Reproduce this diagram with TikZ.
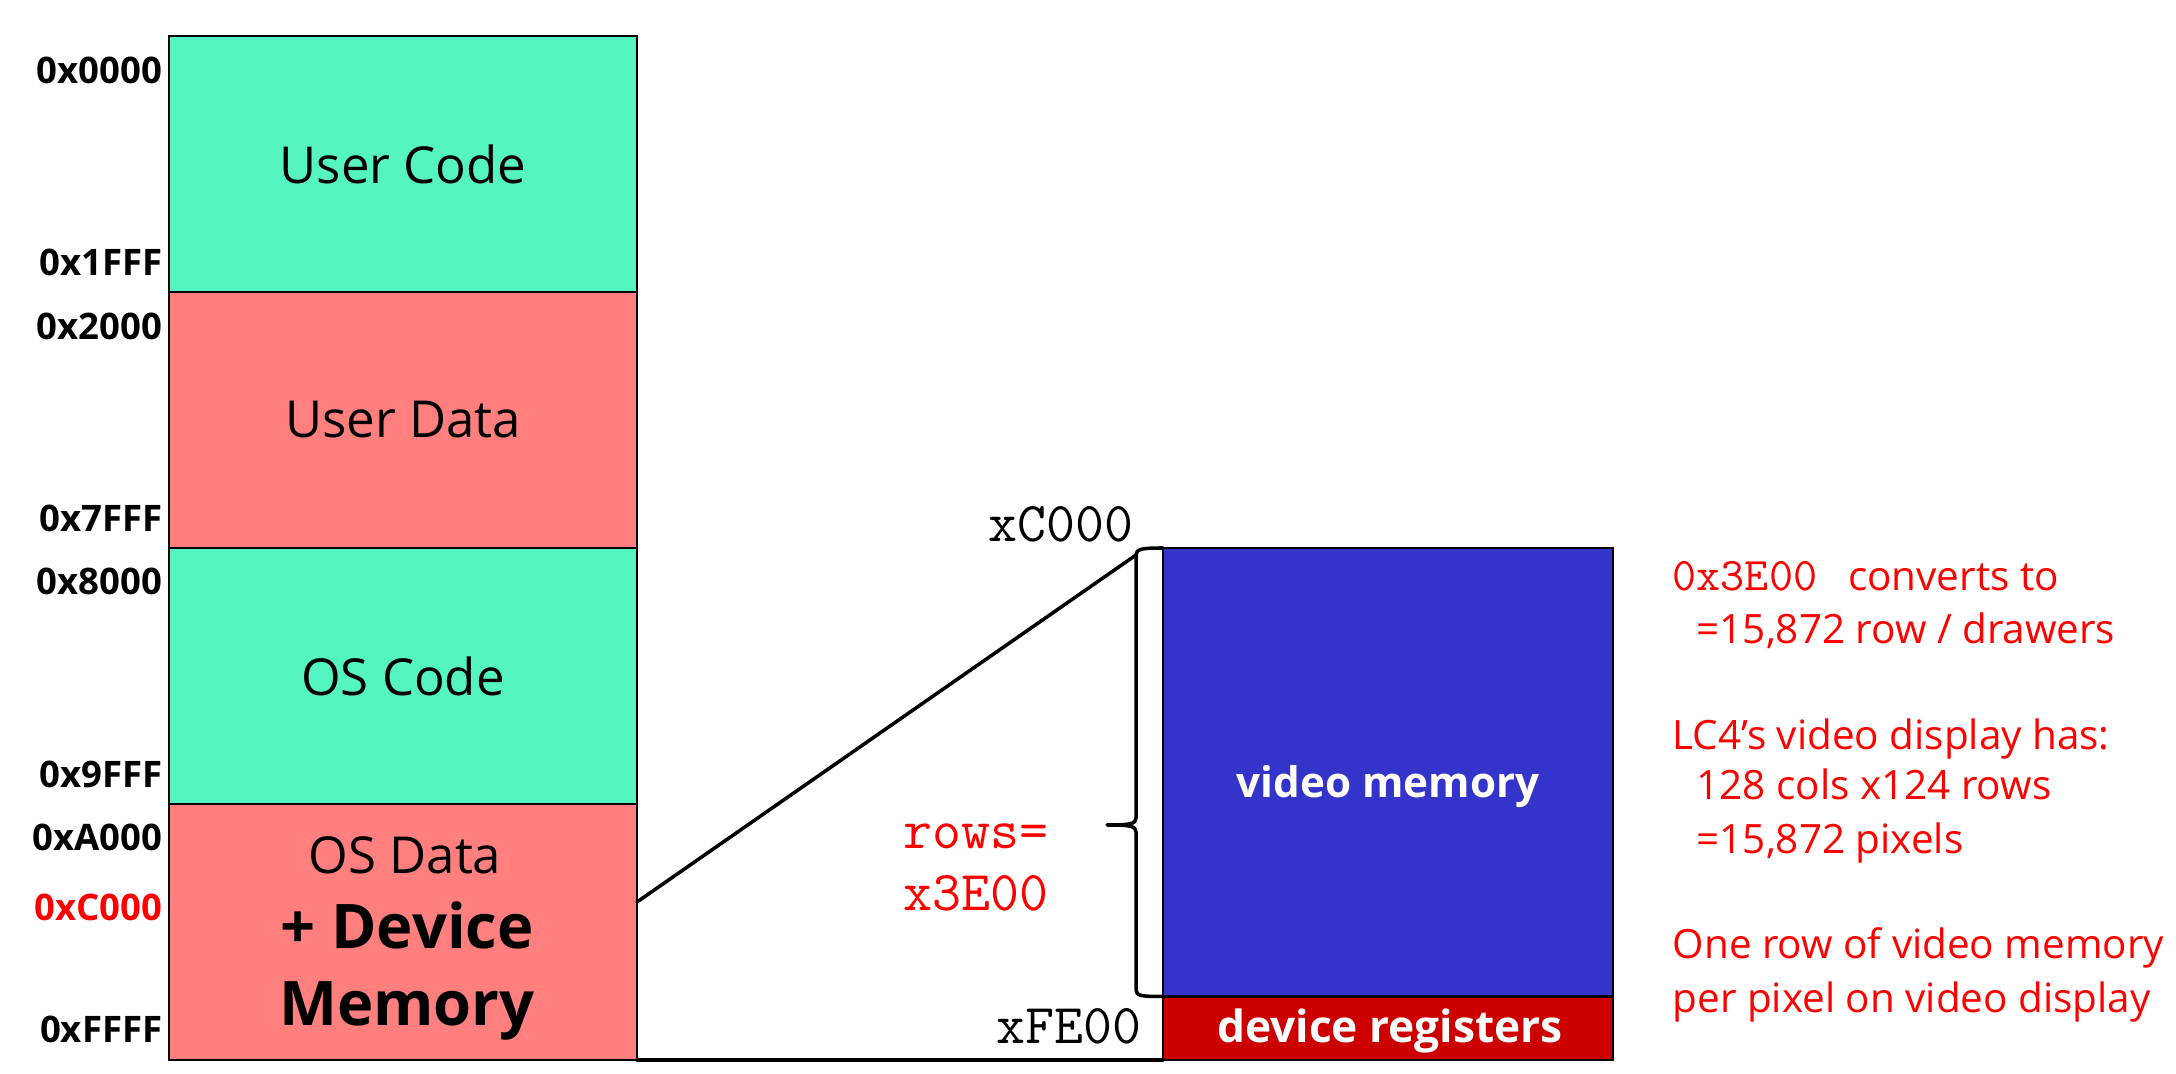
\documentclass[tikz,border=0pt]{standalone}
\usepackage{fontspec}
\setmainfont{Open Sans}
\usepackage{tikz}
\usetikzlibrary{positioning,calc}

\definecolor{codegreen}{HTML}{55F5C3}
\definecolor{datapink}{HTML}{FF7F7F}
\definecolor{vidblue}{HTML}{3434CB}
\definecolor{regred}{HTML}{CC0000}

\tikzset{
  memblock/.style={draw=black, line width=0.6pt, inner sep=0pt, outer sep=0pt,
    minimum width=4.68cm, minimum height=2.56cm, anchor=south west,
    font=\fontsize{14.5}{17}\selectfont},
  devblock/.style={draw=black, line width=0.6pt, inner sep=0pt, outer sep=0pt,
    minimum width=4.50cm, anchor=south west},
  addr/.style={anchor=base east, inner sep=0pt, font=\bfseries\fontsize{10.4}{12}\selectfont},
  blocktext/.style={anchor=base, inner sep=0pt},
  ttlabel/.style={inner sep=0pt, font=\ttfamily\fontsize{16}{18}\selectfont},
  note/.style={anchor=base west, inner sep=0pt, text=red, font=\fontsize{11.5}{14}\selectfont},
  link/.style={line width=1pt, line cap=round, line join=round},
}

\begin{document}
\begin{tikzpicture}
  \useasboundingbox (0,0) rectangle (21.76,10.74);
  % memory map
  \node[memblock, fill=codegreen] (ucode) at (1.69,7.82) {User Code};
  \node[memblock, fill=datapink] (udata) at (1.69,5.26) {User Data};
  \node[memblock, fill=codegreen] (oscode) at (1.69,2.70) {OS Code};
  \node[memblock, fill=datapink] (osdata) at (1.69,0.14) {};
  \node[blocktext, font=\fontsize{14.5}{17}\selectfont] (osdtext) at (4.05,2.00) {OS Data};
  \node[blocktext, font=\bfseries\fontsize{17.5}{20}\selectfont] (devtext) at (4.07,1.25) {+ Device};
  \node[blocktext, font=\bfseries\fontsize{17.5}{20}\selectfont] (memtext) at (4.07,0.48) {Memory};

  % addresses
  \node[addr] (a0000) at (1.63,9.90) {0x0000};
  \node[addr] (a1fff) at (1.63,7.98) {0x1FFF};
  \node[addr] (a2000) at (1.63,7.34) {0x2000};
  \node[addr] (a7fff) at (1.63,5.42) {0x7FFF};
  \node[addr] (a8000) at (1.63,4.79) {0x8000};
  \node[addr] (a9fff) at (1.63,2.86) {0x9FFF};
  \node[addr] (aa000) at (1.63,2.23) {0xA000};
  \node[addr, text=red] (ac000) at (1.63,1.53) {0xC000};
  \node[addr] (affff) at (1.63,0.31) {0xFFFF};

  % zoomed device memory
  \node[devblock, fill=vidblue, minimum height=4.485cm] (vmem) at (11.63,0.775) {};
  \node[devblock, fill=regred, minimum height=0.635cm] (devreg) at (11.63,0.14) {};
  \node[blocktext, text=white, font=\bfseries\fontsize{12}{14}\selectfont] (vmemtext) at (13.88,2.76) {video memory};
  \node[blocktext, text=white, font=\bfseries\fontsize{12.6}{14}\selectfont] (devregtext) at (13.90,0.31) {device registers};

  \node[ttlabel, anchor=base east] (lc000) at (11.34,5.32) {xC000};
  \node[ttlabel, anchor=base east] (lfe00) at (11.42,0.30) {xFE00};
  \node[ttlabel, anchor=base west, text=red] (rows) at (9.03,2.25) {rows=};
  \node[ttlabel, anchor=base west, text=red] (rowsval) at (9.03,1.63) {x3E00};

  % brace and zoom lines
  \coordinate (zoomfrom) at ($(osdata.south east)+(0,1.58)$);
  \coordinate (linetop) at (11.36,5.19);
  \coordinate (bracetip) at (11.07,2.49);
  \draw[link] (vmem.north west) .. controls (11.42,5.26) and (11.36,5.25) .. (linetop)
    -- (11.36,2.56) .. controls (11.36,2.50) and (11.30,2.49) .. (bracetip)
    .. controls (11.30,2.49) and (11.36,2.48) .. (11.36,2.42)
    -- (11.36,0.84) .. controls (11.36,0.78) and (11.42,0.775) .. (vmem.south west);
  \draw[link] (zoomfrom) -- (linetop);
  \draw[link] (osdata.south east) -- (devreg.south west);

  % notes
  \node[note] (n1) at (16.72,4.83) {{\ttfamily\fontsize{13.3}{14}\selectfont 0x3E00}\hspace{0.31cm}converts to};
  \node[note] (n2) at (16.96,4.30) {=15,872 row / drawers};
  \node[note] (n3) at (16.72,3.24) {LC4’s video display has:};
  \node[note] (n4) at (16.96,2.74) {128 cols x124 rows};
  \node[note] (n5) at (16.96,2.20) {=15,872 pixels};
  \node[note] (n6) at (16.72,1.15) {One row of video memory};
  \node[note] (n7) at (16.72,0.61) {per pixel on video display};
\end{tikzpicture}
\end{document}
